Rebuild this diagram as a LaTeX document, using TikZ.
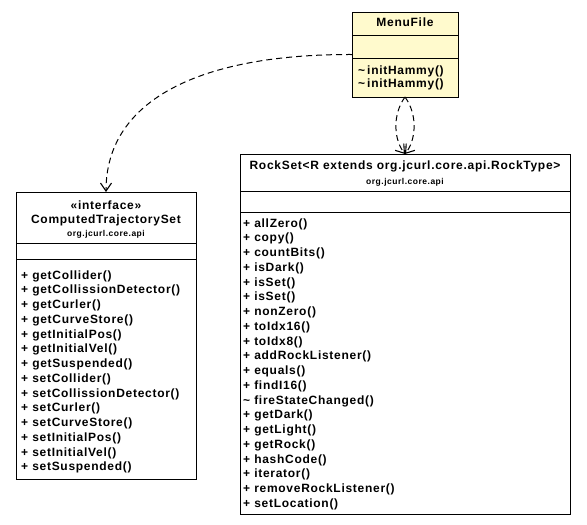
\documentclass[tikz,border=0pt]{standalone}
\usepackage{fontspec}
\setmainfont{Liberation Sans}[LetterSpace=6]
\usetikzlibrary{arrows.meta}
\definecolor{menuyellow}{RGB}{255,250,205}
\begin{document}
\begin{tikzpicture}[x=1pt,y=-1pt,font=\bfseries\fontsize{12}{14}\selectfont]
\tikzset{
  classbox/.style={draw=black, line width=1pt, fill=white, inner sep=0pt, outer sep=0pt},
  mtext/.style={anchor=base west, inner sep=0pt},
  ctext/.style={anchor=base, inner sep=0pt},
  pkg/.style={font=\bfseries\fontsize{8.5}{10}\selectfont},
  sep/.style={line width=1pt},
  dep/.style={line width=1pt, dash pattern=on 6pt off 4pt, -{Straight Barb[length=8pt,width=11pt,line width=1.1pt]}}
}
\useasboundingbox (0,0) rectangle (587,525);
% MenuFile
\node[classbox, fill=menuyellow, minimum width=106, minimum height=85] (menu) at (405,54.5) {};
\draw[sep] (352,35) -- (458,35);
\draw[sep] (352,58) -- (458,58);
\node[ctext] (menuname) at (405,26) {MenuFile};
\node[mtext] (mm1) at (358,74) {\textasciitilde\,initHammy()};
\node[mtext] (mm2) at (358,87) {\textasciitilde\,initHammy()};
% ComputedTrajectorySet
\node[classbox, minimum width=180, minimum height=287] (cts) at (106,335.5) {};
\draw[sep] (16,243) -- (196,243);
\draw[sep] (16,259) -- (196,259);
\node[ctext] (ctsst) at (106,209) {\guillemotleft interface\guillemotright};
\node[ctext] (ctsname) at (106,223) {ComputedTrajectorySet};
\node[ctext, pkg] (ctspkg) at (106,236) {org.jcurl.core.api};
\foreach \m [count=\i from 0] in {getCollider(),getCollissionDetector(),getCurler(),getCurveStore(),getInitialPos(),getInitialVel(),getSuspended(),setCollider(),setCollissionDetector(),setCurler(),setCurveStore(),setInitialPos(),setInitialVel(),setSuspended()}
  \node[mtext] (ctsm\i) at (21,279+14.75*\i) {+ \m};
% RockSet
\node[classbox, minimum width=330, minimum height=360] (rock) at (405,334) {};
\draw[sep] (240,191) -- (570,191);
\draw[sep] (240,212) -- (570,212);
\node[ctext] (rockname) at (405,169) {RockSet<R extends org.jcurl.core.api.RockType>};
\node[ctext, pkg] (rockpkg) at (405,184) {org.jcurl.core.api};
\foreach \m/\v [count=\i from 0] in {allZero()/+,copy()/+,countBits()/+,isDark()/+,isSet()/+,isSet()/+,nonZero()/+,toIdx16()/+,toIdx8()/+,addRockListener()/+,equals()/+,findI16()/+,fireStateChanged()/\textasciitilde,getDark()/+,getLight()/+,getRock()/+,hashCode()/+,iterator()/+,removeRockListener()/+,setLocation()/+}
  \node[mtext] (rockm\i) at (243,227+14.75*\i) {\v\ \m};
% dependencies
\draw[dep] (menu.west) .. controls (200,54) and (106,100) .. (cts.north);
\draw[dep] (menu.south) .. controls (392,115) and (394,140) .. (rock.north);
\draw[dep] (menu.south) .. controls (418,115) and (416,140) .. (rock.north);
\end{tikzpicture}
\end{document}
